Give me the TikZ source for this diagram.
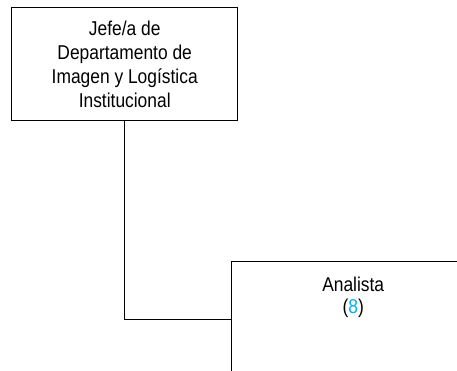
\documentclass[tikz,border=0pt]{standalone}
\usepackage{fontspec}
\setmainfont{Liberation Sans}[FakeStretch=0.87]
\usetikzlibrary{positioning}
\definecolor{cntBlue}{HTML}{00B0F0}

\begin{document}
\begin{tikzpicture}[x=1pt, y=-1pt,
    orgbox/.style={draw=black, line width=1.4pt, inner sep=0pt},
    orgtxt/.style={align=center, font=\fontsize{20}{24}\selectfont, inner sep=0pt}]
    \useasboundingbox (0,0) rectangle (457,371);
    \clip (0,0) rectangle (457,371);
    % puesto superior
    \node[orgbox, orgtxt, minimum width=226pt, minimum height=113pt, anchor=north west] (jefe) at (11,7)
        {Jefe/a de\\Departamento de\\Imagen y Logística\\Institucional};
    % puesto subordinado
    \node[orgbox, minimum width=243pt, minimum height=116pt, anchor=north west] (analista) at (231,261) {};
    \node[orgtxt, font=\fontsize{20}{22}\selectfont, below=16pt of analista.north] (analistatxt)
        {Analista\\(\textcolor{cntBlue}{8})};
    % linea de mando
    \draw[line width=1.4pt] (jefe.south) |- (analista.west);
\end{tikzpicture}
\end{document}
